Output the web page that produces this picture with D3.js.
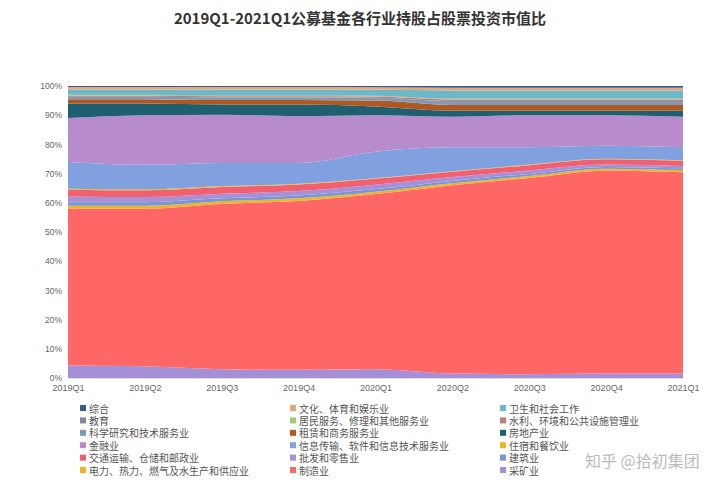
<!DOCTYPE html>
<html><head><meta charset="utf-8">
<script src="https://cdn.jsdelivr.net/npm/d3@7"></script>
<style>body{margin:0;background:#fff;font-family:"Noto Sans CJK SC","Noto Sans",sans-serif}</style>
</head><body><svg id="c" width="720" height="489"></svg>
<script>
const quarters=["2019Q1","2019Q2","2019Q3","2019Q4","2020Q1","2020Q2","2020Q3","2020Q4","2021Q1"];
const yTicks=[0,10,20,30,40,50,60,70,80,90,100];
// stack order bottom -> top
const seriesNames=["采矿业","制造业","电力、热力、燃气及水生产和供应业","建筑业","批发和零售业","交通运输、仓储和邮政业","住宿和餐饮业","信息传输、软件和信息技术服务业","金融业","房地产业","租赁和商务服务业","科学研究和技术服务业","水利、环境和公共设施管理业","居民服务、修理和其他服务业","教育","卫生和社会工作","文化、体育和娱乐业","综合"];
const seriesColors=["#a58fd6","#ff6666","#f0b428","#7898d0","#a890d8","#f06070","#e8b820","#80a0e0","#b88ccc","#1f6070","#b05820","#7c9cb8","#c87878","#a8c878","#8c7fa8","#6ab8c8","#e8a878","#3b5a8c"];
const values=[
[4.3,4,3,2.8,3,1.5,1.3,1.5,1.5],
[53.7,54,56.5,57.7,60,64.5,67.2,69.5,69],
[1,1,0.9,0.9,0.8,0.7,0.7,0.7,0.7],
[1.2,1.2,1,1,0.9,0.8,0.7,0.6,0.6],
[2,1.8,1.6,1.5,1.5,1.3,1.2,0.8,0.8],
[2.3,2.3,2.3,2.2,2,1.8,1.8,1.8,1.8],
[0.3,0.3,0.3,0.3,0.2,0.2,0.2,0.2,0.2],
[9.2,8.4,7.9,7.1,9.1,8.2,5.9,4.4,4.4],
[15,17,16.5,16,12.5,10.5,11,10.5,10.5],
[5,4,3.5,4,3,2,1.5,1.5,2],
[1.5,1.5,1.5,1.5,2,2,2,2,2],
[0.8,0.8,0.9,0.9,1,1.4,1.4,1.4,1.4],
[0.4,0.4,0.4,0.4,0.4,0.5,0.5,0.5,0.5],
[0.2,0.2,0.2,0.2,0.2,0.2,0.2,0.2,0.2],
[0.1,0.1,0.1,0.1,0.1,0.1,0.1,0.1,0.1],
[1.8,1.8,2,2,2,2.8,2.8,2.8,2.8],
[0.9,0.9,0.9,0.9,0.9,0.9,0.9,0.9,0.9],
[0.3,0.3,0.3,0.3,0.4,0.6,0.6,0.6,0.6]
];
const legendOrder=["综合","文化、体育和娱乐业","卫生和社会工作","教育","居民服务、修理和其他服务业","水利、环境和公共设施管理业","科学研究和技术服务业","租赁和商务服务业","房地产业","金融业","信息传输、软件和信息技术服务业","住宿和餐饮业","交通运输、仓储和邮政业","批发和零售业","建筑业","电力、热力、燃气及水生产和供应业","制造业","采矿业"];

const svg=d3.select("#c");
const rows=quarters.map((q,i)=>{const o={q};seriesNames.forEach((s,j)=>o[s]=values[j][i]);return o;});
const stack=d3.stack().keys(seriesNames).offset(d3.stackOffsetExpand)(rows);
const x=d3.scalePoint().domain(quarters).range([68,683]);
const y=d3.scaleLinear().domain([0,1]).range([378,86]);
const color=d3.scaleOrdinal().domain(seriesNames).range(seriesColors);
const area=d3.area().x(d=>x(d.data.q)).y0(d=>y(d[0])).y1(d=>y(d[1])).curve(d3.curveMonotoneX);
svg.append("g").selectAll("path").data(stack).join("path").attr("d",area).attr("fill",d=>color(d.key));

svg.append("text").attr("x",360).attr("y",24).attr("text-anchor","middle").attr("font-size",15).attr("font-weight","bold").attr("fill","#333").text("2019Q1-2021Q1公募基金各行业持股占股票投资市值比");

const ya=svg.append("g").attr("transform","translate(66,0)").call(d3.axisLeft(y).tickValues(yTicks.map(v=>v/100)).tickFormat(v=>Math.round(v*100)+"%").tickSize(0).tickPadding(4));
ya.select(".domain").remove();
ya.selectAll("text").attr("font-size",8.5).attr("fill","#666");
const xa=svg.append("g").attr("transform","translate(0,378)").call(d3.axisBottom(x).tickSize(0).tickPadding(7));
xa.select(".domain").attr("stroke","#ddd");
xa.selectAll("text").attr("font-size",9).attr("fill","#666");

const colX=[80,290,500];
legendOrder.forEach((s,i)=>{
  const cx=colX[i%3], cy=409+Math.floor(i/3)*12.4;
  const g=svg.append("g").attr("transform",`translate(${cx},${cy})`);
  g.append("rect").attr("x",0).attr("y",-4).attr("width",6).attr("height",6).attr("fill",color(s));
  g.append("text").attr("x",9).attr("y",3.5).attr("font-size",10).attr("fill","#555").text(s);
});
svg.append("text").attr("x",585).attr("y",467).attr("font-size",16).attr("fill","#bbb").text("知乎 @拾初集团");
</script></body></html>
